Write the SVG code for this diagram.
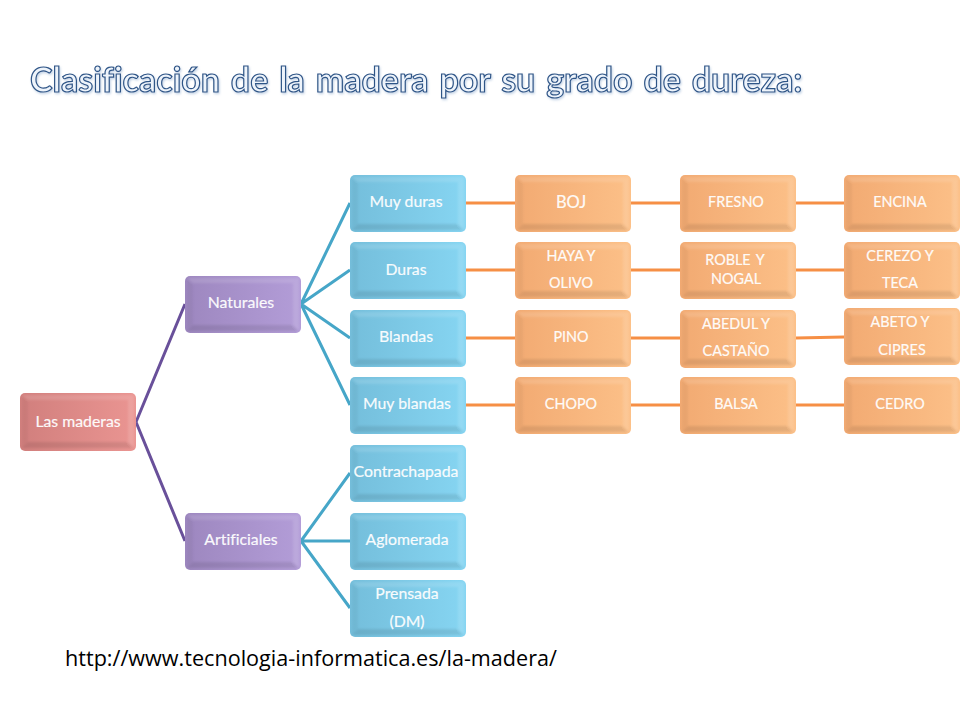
<svg xmlns="http://www.w3.org/2000/svg" xmlns:xlink="http://www.w3.org/1999/xlink" width="960" height="720" viewBox="0 0 960 720">
<style>
text{font-family:Lato,"Open Sans","Liberation Sans",sans-serif;font-variant-ligatures:none}
.t{fill:#fff;font-size:15.8px;text-anchor:middle;fill-opacity:.95;stroke:#fff;stroke-width:.2px}
.u{font-size:14.4px}
.title{font-size:34px;font-weight:700;word-spacing:2.6px;fill:#eef4fb;stroke:#2f5587;stroke-width:1.2px;filter:url(#glow)}
.url{font-size:21.6px;fill:#000;font-family:"Open Sans","Liberation Sans",sans-serif}
.c{fill:none;stroke-width:3px}
.cp{stroke:#69509a}.cb{stroke:#46a6c8}.co{stroke:#f68f45}
.red{fill:url(#gr)}.pur{fill:url(#gp)}.blu{fill:url(#gb)}.ora{fill:url(#go)}
</style>
<defs>
<filter id="glow" x="-5%" y="-20%" width="110%" height="140%"><feDropShadow dx="1" dy="1.5" stdDeviation="1" flood-color="#7f9fc8" flood-opacity=".45"/></filter>
<filter id="soft" x="-5%" y="-5%" width="110%" height="110%"><feGaussianBlur stdDeviation=".8"/></filter>
<linearGradient id="gr" x1="0" x2="1" y1="0" y2="0"><stop offset="0" stop-color="#d17f7d"/><stop offset="1" stop-color="#ea9592"/></linearGradient>
<linearGradient id="gp" x1="0" x2="1" y1="0" y2="0"><stop offset="0" stop-color="#9d87bf"/><stop offset="1" stop-color="#b39dd8"/></linearGradient>
<linearGradient id="gb" x1="0" x2="1" y1="0" y2="0"><stop offset="0" stop-color="#74bedb"/><stop offset="1" stop-color="#86d5f2"/></linearGradient>
<linearGradient id="go" x1="0" x2="1" y1="0" y2="0"><stop offset="0" stop-color="#f2aa72"/><stop offset="1" stop-color="#fcc088"/></linearGradient>
<g id="bevel" filter="url(#soft)">
<polygon points="2,2 114,2 108,7 8,7" fill="#fff" fill-opacity=".12"/>
<polygon points="2,2 8,7 8,49 2,55" fill="#000" fill-opacity=".04"/>
<polygon points="114,2 108,7 108,49 114,55" fill="#fff" fill-opacity=".12"/>
<polygon points="2,55 8,49 108,49 114,55" fill="#000" fill-opacity=".09"/>
</g>
</defs>
<rect width="960" height="720" fill="#fff"/>
<text class="title" x="30" y="92">Clasificación de la madera por su grado de dureza:</text>
<g id="connectors">
<path class="c cp" d="M136 422L185 304M136 422L185 541"/>
<path class="c cb" d="M301 304L350 203M301 304L350 270M301 304L350 338M301 304L350 405M301 541L350 473M301 541H350M301 541L350 608"/>
<path class="c co" d="M466 203H515M631 203H680M796 203H844M466 270H515M631 270H680M796 270H844M466 338H515M631 338H680M796 338L844 337M466 405H515M631 405H680M796 405H844"/>
</g>
<g id="n1"><rect x="20" y="393" width="116" height="58" rx="5" class="red"/><use href="#bevel" x="20" y="393"/><text class="t" x="78" y="427">Las maderas</text></g>
<g id="n2"><rect x="185" y="276" width="116" height="57" rx="5" class="pur"/><use href="#bevel" x="185" y="276"/><text class="t" x="241" y="308">Naturales</text></g>
<g id="n3"><rect x="185" y="513" width="116" height="57" rx="5" class="pur"/><use href="#bevel" x="185" y="513"/><text class="t" x="241" y="545">Artificiales</text></g>
<g id="n4"><rect x="350" y="175" width="116" height="57" rx="5" class="blu"/><use href="#bevel" x="350" y="175"/><text class="t" x="406" y="207">Muy duras</text></g>
<g id="n5"><rect x="350" y="242" width="116" height="57" rx="5" class="blu"/><use href="#bevel" x="350" y="242"/><text class="t" x="406" y="275">Duras</text></g>
<g id="n6"><rect x="350" y="310" width="116" height="57" rx="5" class="blu"/><use href="#bevel" x="350" y="310"/><text class="t" x="406" y="342">Blandas</text></g>
<g id="n7"><rect x="350" y="377" width="116" height="57" rx="5" class="blu"/><use href="#bevel" x="350" y="377"/><text class="t" x="407" y="409">Muy blandas</text></g>
<g id="n8"><rect x="350" y="445" width="116" height="57" rx="5" class="blu"/><use href="#bevel" x="350" y="445"/><text class="t" x="406" y="477">Contrachapada</text></g>
<g id="n9"><rect x="350" y="513" width="116" height="57" rx="5" class="blu"/><use href="#bevel" x="350" y="513"/><text class="t" x="407" y="545">Aglomerada</text></g>
<g id="n10"><rect x="350" y="580" width="116" height="57" rx="5" class="blu"/><use href="#bevel" x="350" y="580"/><text class="t" x="407" y="599">Prensada</text><text class="t" x="407" y="627">(DM)</text></g>
<g id="n11"><rect x="515" y="175" width="116" height="57" rx="5" class="ora"/><use href="#bevel" x="515" y="175"/><text class="t" x="571" y="208" style="font-size:16.5px">BOJ</text></g>
<g id="n12"><rect x="680" y="175" width="116" height="57" rx="5" class="ora"/><use href="#bevel" x="680" y="175"/><text class="t u" x="736" y="207">FRESNO</text></g>
<g id="n13"><rect x="844" y="175" width="116" height="57" rx="5" class="ora"/><use href="#bevel" x="844" y="175"/><text class="t u" x="900" y="207">ENCINA</text></g>
<g id="n14"><rect x="515" y="242" width="116" height="57" rx="5" class="ora"/><use href="#bevel" x="515" y="242"/><text class="t u" x="571" y="261">HAYA Y</text><text class="t u" x="571" y="288">OLIVO</text></g>
<g id="n15"><rect x="680" y="242" width="116" height="57" rx="5" class="ora"/><use href="#bevel" x="680" y="242"/><text class="t u" x="735" y="265" style="word-spacing:2px">ROBLE Y</text><text class="t u" x="736" y="284">NOGAL</text></g>
<g id="n16"><rect x="844" y="242" width="116" height="57" rx="5" class="ora"/><use href="#bevel" x="844" y="242"/><text class="t u" x="900" y="261">CEREZO Y</text><text class="t u" x="900" y="288">TECA</text></g>
<g id="n17"><rect x="515" y="310" width="116" height="57" rx="5" class="ora"/><use href="#bevel" x="515" y="310"/><text class="t u" x="571" y="342">PINO</text></g>
<g id="n18"><rect x="680" y="310" width="116" height="58" rx="5" class="ora"/><use href="#bevel" x="680" y="310"/><text class="t u" x="736" y="329">ABEDUL Y</text><text class="t u" x="736" y="356">CASTAÑO</text></g>
<g id="n19"><rect x="844" y="308" width="116" height="57" rx="5" class="ora"/><use href="#bevel" x="844" y="308"/><text class="t u" x="900" y="327">ABETO Y</text><text class="t u" x="902" y="355">CIPRES</text></g>
<g id="n20"><rect x="515" y="377" width="116" height="57" rx="5" class="ora"/><use href="#bevel" x="515" y="377"/><text class="t u" x="571" y="409">CHOPO</text></g>
<g id="n21"><rect x="680" y="377" width="116" height="57" rx="5" class="ora"/><use href="#bevel" x="680" y="377"/><text class="t u" x="736" y="409">BALSA</text></g>
<g id="n22"><rect x="844" y="377" width="116" height="57" rx="5" class="ora"/><use href="#bevel" x="844" y="377"/><text class="t u" x="900" y="409">CEDRO</text></g>
<text class="url" x="65" y="666">http://www.tecnologia-informatica.es/la-madera/</text>
</svg>
